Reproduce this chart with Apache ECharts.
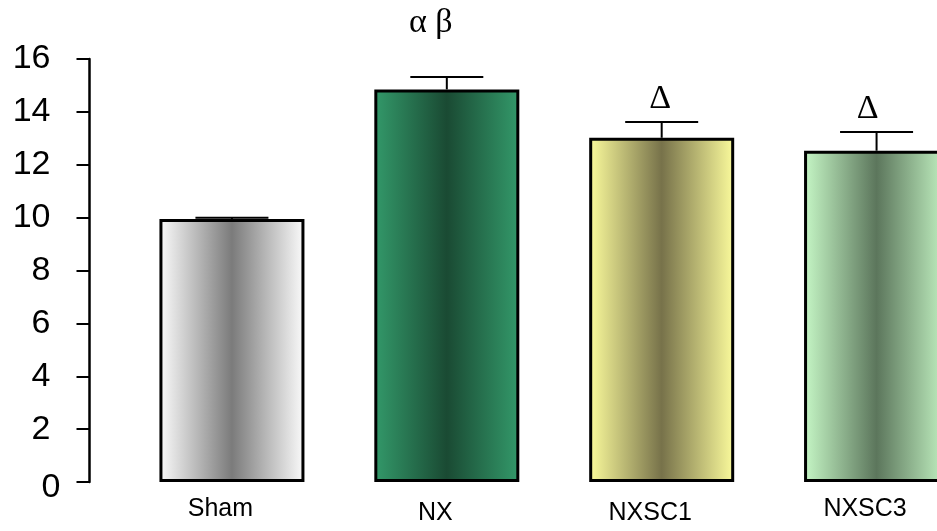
<!DOCTYPE html>
<html>
<head>
<meta charset="utf-8">
<script src="https://cdn.jsdelivr.net/npm/echarts@6/dist/echarts.min.js"></script>
<style>
  html, body { margin: 0; padding: 0; background: #ffffff; }
  #chart { width: 937px; height: 531px; }
</style>
</head>
<body>
<div id="chart"></div>
<script>
// Group names, group means and upper error (SEM)
const categories = ['Sham', 'NX', 'NXSC1', 'NXSC3'];
const means = [9.95, 14.85, 13.02, 12.53];
const errors = [0.05, 0.47, 0.60, 0.71];
// Significance symbols printed above the error bars
const marks = ['', 'α β', 'Δ', 'Δ'];
// Y axis ticks
const yTicks = [0, 2, 4, 6, 8, 10, 12, 14, 16];

// ---- styling ----
// Each bar is shaded light at its edges and dark in the middle
const barShades = [
  ['#fbfbfb', '#7b7b7b'],
  ['#33996a', '#1a4a33'],
  ['#fbfb9c', '#77724a'],
  ['#c6f7c6', '#5c765c']
];
// Placement of the symbols relative to each error-bar cap (px)
const markShiftX = [0, -16, -1.5, -9];
const markLift = [0, 54, 23, 23];
// Axis label rows alternate in height
const labelRow = ['a', 'b', 'b', 'a'];

function shade(pair) {
  return new echarts.graphic.LinearGradient(0, 0, 1, 0, [
    { offset: 0, color: pair[0] },
    { offset: 0.5, color: pair[1] },
    { offset: 1, color: pair[0] }
  ]);
}

const chart = echarts.init(document.getElementById('chart'), null, { renderer: 'canvas' });

const barData = means.map((v, i) => ({
  value: v,
  itemStyle: { color: shade(barShades[i]) }
}));
const errData = means.map((v, i) => [i, v, errors[i], marks[i]]);

const CAP_HALF = 36.5;

chart.setOption({
  animation: false,
  backgroundColor: '#ffffff',
  // the last group runs past the right edge of the page
  grid: { left: 124.5, top: 59, bottom: 49, right: -47, containLabel: false, outerBoundsMode: 'none' },
  xAxis: {
    type: 'category',
    data: categories,
    axisLine: { show: false },
    axisTick: { show: false },
    axisLabel: {
      margin: 15,
      interval: 0,
      formatter: (val, idx) => '{' + labelRow[idx] + '|' + val + '}',
      rich: {
        a: { fontFamily: 'Liberation Sans, Arial, sans-serif', fontSize: 25, lineHeight: 24, color: '#000', padding: [0, 23, 0, 0] },
        b: { fontFamily: 'Liberation Sans, Arial, sans-serif', fontSize: 25, lineHeight: 24, color: '#000', padding: [8, 23, 0, 0] }
      }
    }
  },
  yAxis: {
    type: 'value',
    min: yTicks[0],
    max: yTicks[yTicks.length - 1],
    interval: yTicks[1] - yTicks[0],
    offset: 35,
    splitLine: { show: false },
    axisLine: { show: true, lineStyle: { color: '#000', width: 2.5 } },
    axisTick: { show: true, inside: false, length: 13, lineStyle: { color: '#000', width: 2 } },
    axisLabel: {
      margin: 29,
      formatter: v => (v === 0 ? '{z|0}' : '{n|' + v + '}'),
      rich: {
        n: { fontFamily: 'Liberation Sans, Arial, sans-serif', fontSize: 34, color: '#000', padding: [0, 10, 0, 0] },
        z: { fontFamily: 'Liberation Sans, Arial, sans-serif', fontSize: 34, color: '#000', padding: [12, 0, 0, 0] }
      }
    }
  },
  series: [
    {
      type: 'bar',
      data: barData,
      barWidth: 145,
      itemStyle: { borderColor: '#000', borderWidth: 3 },
      z: 2
    },
    {
      type: 'custom',
      data: errData,
      z: 3,
      renderItem: function (params, api) {
        const idx = api.value(0);
        const m = api.value(1);
        const e = api.value(2);
        const base = api.coord([idx, m]);
        const top = api.coord([idx, m + e]);
        const lineStyle = { stroke: '#000', lineWidth: 2 };
        const children = [
          { type: 'line', shape: { x1: base[0], y1: base[1], x2: top[0], y2: top[1] }, style: lineStyle },
          { type: 'line', shape: { x1: top[0] - CAP_HALF, y1: top[1], x2: top[0] + CAP_HALF, y2: top[1] }, style: lineStyle }
        ];
        const txt = marks[params.dataIndex];
        if (txt) {
          children.push({
            type: 'text',
            style: {
              text: txt,
              x: top[0] + markShiftX[params.dataIndex],
              y: top[1] - markLift[params.dataIndex],
              align: 'center',
              verticalAlign: 'middle',
              fontFamily: 'Liberation Serif, Times New Roman, serif',
              fontSize: 34,
              fill: '#000'
            }
          });
        }
        return { type: 'group', children: children };
      }
    }
  ]
});
</script>
</body>
</html>
